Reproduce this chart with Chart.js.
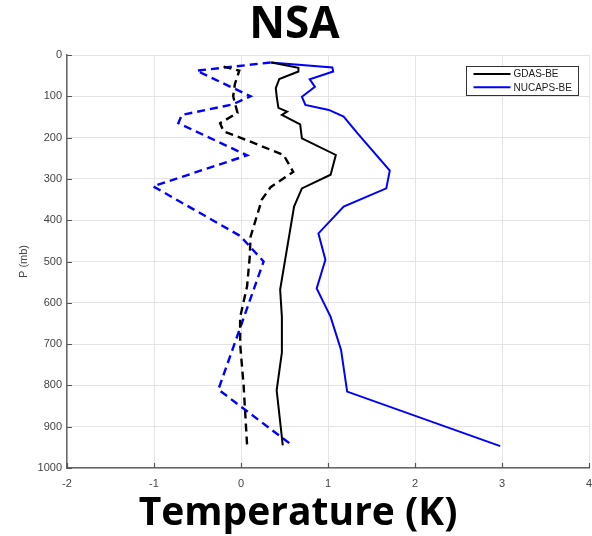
<!DOCTYPE html>
<html>
<head>
<meta charset="utf-8">
<script src="https://cdn.jsdelivr.net/npm/chart.js@4/dist/chart.umd.min.js"></script>
<style>
  html, body { margin: 0; padding: 0; background: #fff; }
  #wrap { width: 592px; height: 536px; }
</style>
</head>
<body>
<div id="wrap"><canvas id="c" width="592" height="536"></canvas></div>
<script>
// Temperature error profiles (K) against pressure (mb)
const xTicks = [-2, -1, 0, 1, 2, 3, 4];
const yTicks = [0, 100, 200, 300, 400, 500, 600, 700, 800, 900, 1000];
const xTitle = 'Temperature (K)';

// GDAS-BE, solid black
const gdasBeP = [18, 31, 40, 58, 80, 100, 128, 137, 145, 168, 202, 242, 290, 323, 367, 568, 634, 720, 812, 945];
const gdasBeT = [0.35, 0.66, 0.66, 0.44, 0.40, 0.41, 0.43, 0.53, 0.47, 0.68, 0.70, 1.09, 1.03, 0.70, 0.61, 0.45, 0.47, 0.47, 0.41, 0.48];

// NUCAPS-BE, solid blue
const nucapsBeP = [18, 30, 40, 59, 77, 101, 121, 133, 149, 190, 280, 323, 367, 432, 496, 565, 634, 714, 815, 947];
const nucapsBeT = [0.34, 1.05, 1.06, 0.79, 0.85, 0.70, 0.74, 1.01, 1.18, 1.34, 1.71, 1.67, 1.18, 0.89, 0.97, 0.87, 1.03, 1.15, 1.22, 2.98];

// GDAS bias, dashed black
const gdasBiasP = [28, 38, 70, 100, 140, 165, 185, 200, 242, 283, 320, 350, 440, 490, 560, 635, 700, 800, 945];
const gdasBiasT = [-0.20, -0.02, -0.07, -0.09, -0.04, -0.24, -0.20, -0.01, 0.49, 0.60, 0.34, 0.24, 0.11, 0.10, 0.07, -0.01, -0.01, 0.03, 0.07];

// NUCAPS bias, dashed blue
const nucapsBiasP = [18, 38, 100, 120, 145, 165, 243, 318, 438, 500, 810, 947];
const nucapsBiasT = [0.34, -0.51, 0.11, -0.10, -0.68, -0.72, 0.07, -1.01, -0.01, 0.26, -0.26, 0.60];

const BLACK = '#000000';
const BLUE = '#0000ff';

function profile(ts, ps) {
  return ts.map((t, i) => ({ x: t, y: ps[i] }));
}

// Inward tick marks on the left and bottom axes
const innerTicks = {
  id: 'innerTicks',
  beforeDatasetsDraw(chart) {
    const { ctx, chartArea: a, scales: { x, y } } = chart;
    ctx.save();
    ctx.strokeStyle = '#555';
    ctx.lineWidth = 1.2;
    ctx.beginPath();
    yTicks.forEach(v => {
      const py = Math.round(y.getPixelForValue(v)) + 0.5;
      ctx.moveTo(a.left, py); ctx.lineTo(a.left + 5, py);
    });
    xTicks.forEach(v => {
      const px = Math.round(x.getPixelForValue(v)) + 0.5;
      ctx.moveTo(px, a.bottom); ctx.lineTo(px, a.bottom - 5);
    });
    ctx.stroke();
    ctx.restore();
  }
};

// Large bold axis caption, centred on the page below the plot
const bottomCaption = {
  id: 'bottomCaption',
  afterDraw(chart) {
    const { ctx, width } = chart;
    ctx.save();
    ctx.fillStyle = '#000';
    ctx.font = 'bold 39px "Open Sans", sans-serif';
    ctx.textAlign = 'center';
    ctx.textBaseline = 'alphabetic';
    ctx.fillText(xTitle, width / 2 + 2, 525);
    ctx.restore();
  }
};

// Boxed legend in the upper right of the plot
const boxLegend = {
  id: 'boxLegend',
  afterDraw(chart) {
    const { ctx, chartArea: a } = chart;
    const items = chart.data.datasets.filter(d => d.inLegend);
    const bx = a.right - 122.5, by = a.top + 11.5, bw = 112, bh = 29;
    ctx.save();
    ctx.fillStyle = '#fff';
    ctx.fillRect(bx, by, bw, bh);
    ctx.strokeStyle = '#333';
    ctx.lineWidth = 1;
    ctx.strokeRect(bx, by, bw, bh);
    ctx.font = '10px "Liberation Sans", Arial, sans-serif';
    ctx.textBaseline = 'middle';
    ctx.textAlign = 'left';
    items.forEach((d, i) => {
      const ly = by + 7.5 + i * 13.3;
      ctx.strokeStyle = d.borderColor;
      ctx.lineWidth = 2;
      ctx.beginPath();
      ctx.moveTo(bx + 7, ly); ctx.lineTo(bx + 44, ly);
      ctx.stroke();
      ctx.fillStyle = '#222';
      ctx.fillText(d.label, bx + 47, ly + 0.5);
    });
    ctx.restore();
  }
};

const lineBase = { showLine: true, pointRadius: 0, pointHoverRadius: 0, fill: false, tension: 0 };

new Chart(document.getElementById('c'), {
  type: 'scatter',
  data: {
    datasets: [
      { ...lineBase, label: 'GDAS bias', data: profile(gdasBiasT, gdasBiasP), borderColor: BLACK, borderWidth: 2.4, borderDash: [8, 5] },
      { ...lineBase, label: 'NUCAPS bias', data: profile(nucapsBiasT, nucapsBiasP), borderColor: BLUE, borderWidth: 2.4, borderDash: [8, 5] },
      { ...lineBase, label: 'GDAS-BE', inLegend: true, data: profile(gdasBeT, gdasBeP), borderColor: BLACK, borderWidth: 2 },
      { ...lineBase, label: 'NUCAPS-BE', inLegend: true, data: profile(nucapsBeT, nucapsBeP), borderColor: BLUE, borderWidth: 2 }
    ]
  },
  options: {
    responsive: false,
    animation: false,
    events: [],
    layout: { padding: { left: 0, right: 3, top: 0, bottom: 0 } },
    plugins: {
      legend: { display: false },
      tooltip: { enabled: false },
      title: {
        display: true,
        text: 'NSA',
        color: '#000',
        font: { family: '"Open Sans", sans-serif', size: 44, weight: 'bold', lineHeight: 1.0 },
        padding: { top: 3.5, bottom: 7.5 }
      }
    },
    scales: {
      x: {
        type: 'linear',
        min: -2, max: 4,
        afterBuildTicks(s) { s.ticks = xTicks.map(v => ({ value: v })); },
        afterFit(s) { s.height = 68; s.paddingLeft = 0; s.paddingRight = 0; },
        grid: { color: '#e4e4e4', lineWidth: 1, drawTicks: false },
        border: { color: '#666', width: 1.5 },
        ticks: {
          padding: 9,
          color: '#444',
          font: { family: '"Liberation Sans", Arial, sans-serif', size: 11 },
          callback: v => String(v)
        }
      },
      y: {
        type: 'linear',
        reverse: true,
        min: 0, max: 1000,
        afterBuildTicks(s) { s.ticks = yTicks.map(v => ({ value: v })); },
        afterFit(s) { s.width = 67; s.paddingTop = 0; s.paddingBottom = 0; },
        grid: { color: '#e4e4e4', lineWidth: 1, drawTicks: false },
        border: { color: '#666', width: 1.5 },
        ticks: {
          padding: 5,
          color: '#444',
          font: { family: '"Liberation Sans", Arial, sans-serif', size: 11 },
          callback: v => String(v)
        },
        title: {
          display: true,
          text: 'P (mb)',
          color: '#444',
          font: { family: '"Liberation Sans", Arial, sans-serif', size: 11 },
          padding: { top: 17, bottom: 0 }
        }
      }
    }
  },
  plugins: [innerTicks, boxLegend, bottomCaption]
});
</script>
</body>
</html>
